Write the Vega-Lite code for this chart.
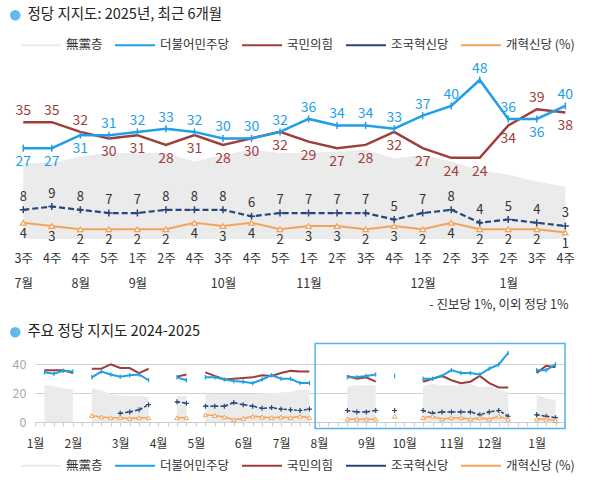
{
  "$schema": "https://vega.github.io/schema/vega-lite/v6.json",
  "padding": {"left": 8, "top": 8, "right": 0, "bottom": 0},
  "background": "white",
  "bounds": "flush",
  "center": true,
  "spacing": 111,
  "config": {"view": {"stroke": null}, "font": "Noto Sans CJK KR"},
  "resolve": {
    "scale": {"x": "independent", "y": "independent", "color": "independent", "shape": "independent"},
    "legend": {"color": "independent", "shape": "independent"}
  },
  "datasets": {
    "recent": [
      {"i": 1, "key": "7월 3주", "dem": 27, "ppp": 35, "reb": 8, "ref": 4, "none": 22.4},
      {"i": 2, "key": "7월 4주", "dem": 27, "ppp": 35, "reb": 9, "ref": 3, "none": 22.4},
      {"i": 3, "key": "8월 4주", "dem": 31, "ppp": 32, "reb": 8, "ref": 2, "none": 24.4},
      {"i": 4, "key": "8월 5주", "dem": 31, "ppp": 30, "reb": 7, "ref": 2, "none": 25.5},
      {"i": 5, "key": "9월 1주", "dem": 32, "ppp": 31, "reb": 7, "ref": 2, "none": 25.5},
      {"i": 6, "key": "9월 2주", "dem": 33, "ppp": 28, "reb": 8, "ref": 2, "none": 25.5},
      {"i": 7, "key": "9월 4주", "dem": 32, "ppp": 31, "reb": 8, "ref": 4, "none": 22.9},
      {"i": 8, "key": "10월 3주", "dem": 30, "ppp": 28, "reb": 8, "ref": 3, "none": 24.9},
      {"i": 9, "key": "10월 4주", "dem": 30, "ppp": 30, "reb": 6, "ref": 4, "none": 26.5},
      {"i": 10, "key": "10월 5주", "dem": 32, "ppp": 32, "reb": 7, "ref": 2, "none": 25.5},
      {"i": 11, "key": "11월 1주", "dem": 36, "ppp": 29, "reb": 7, "ref": 3, "none": 25.5},
      {"i": 12, "key": "11월 2주", "dem": 34, "ppp": 27, "reb": 7, "ref": 3, "none": 26},
      {"i": 13, "key": "11월 3주", "dem": 34, "ppp": 28, "reb": 7, "ref": 2, "none": 26.5},
      {"i": 14, "key": "11월 4주", "dem": 33, "ppp": 32, "reb": 5, "ref": 3, "none": 23.9},
      {"i": 15, "key": "12월 1주", "dem": 37, "ppp": 27, "reb": 7, "ref": 2, "none": 24.9},
      {"i": 16, "key": "12월 2주", "dem": 40, "ppp": 24, "reb": 8, "ref": 4, "none": 22.9},
      {"i": 17, "key": "12월 3주", "dem": 48, "ppp": 24, "reb": 4, "ref": 2, "none": 20.3},
      {"i": 18, "key": "1월 2주", "dem": 36, "ppp": 34, "reb": 5, "ref": 2, "none": 18.8},
      {"i": 19, "key": "1월 3주", "dem": 36, "ppp": 39, "reb": 4, "ref": 2, "none": 16.7},
      {"i": 20, "key": "1월 4주", "dem": 40, "ppp": 38, "reb": 3, "ref": 1, "none": 15.2}
    ],
    "history": [
      {"w": 1, "seg": "A", "dem": 34.5, "ppp": 36, "reb": null, "ref": null, "none": 25.7},
      {"w": 2, "seg": "A", "dem": 33.5, "ppp": 36, "reb": null, "ref": null, "none": 25},
      {"w": 3, "seg": "A", "dem": 35.5, "ppp": 36, "reb": null, "ref": null, "none": 23.5},
      {"w": 4, "seg": "A", "dem": 35, "ppp": 34, "reb": null, "ref": null, "none": 22.5},
      {"w": 6, "seg": "B", "dem": 31, "ppp": 37, "reb": null, "ref": 4.5, "none": 23.4},
      {"w": 7, "seg": "B", "dem": 35, "ppp": 37, "reb": null, "ref": 3.5, "none": 22},
      {"w": 8, "seg": "B", "dem": 33, "ppp": 40, "reb": null, "ref": 3, "none": 19.5},
      {"w": 9, "seg": "B", "dem": 31.5, "ppp": 37.5, "reb": 6, "ref": 3, "none": 18.5},
      {"w": 10, "seg": "B", "dem": 32.5, "ppp": 37.5, "reb": 7, "ref": 2.5, "none": 18},
      {"w": 11, "seg": "B", "dem": 33, "ppp": 34, "reb": 8.5, "ref": 3, "none": 17.8},
      {"w": 12, "seg": "B", "dem": 29, "ppp": 37, "reb": 12, "ref": 3, "none": 17.5},
      {"w": 15, "seg": "C", "dem": 31, "ppp": 31.5, "reb": 14, "ref": 3, "none": 18},
      {"w": 16, "seg": "C", "dem": 29, "ppp": 33, "reb": 13, "ref": 3, "none": 18},
      {"w": 18, "seg": "D", "dem": 31, "ppp": 34.5, "reb": 11, "ref": 5, "none": 20},
      {"w": 19, "seg": "D", "dem": 31, "ppp": 32, "reb": 11, "ref": 4.5, "none": 19.5},
      {"w": 20, "seg": "D", "dem": 29.5, "ppp": 29.5, "reb": 11, "ref": 3.5, "none": 19.5},
      {"w": 21, "seg": "D", "dem": 28.5, "ppp": 30, "reb": 13.5, "ref": 1.5, "none": 19.5},
      {"w": 22, "seg": "D", "dem": 28, "ppp": 30.5, "reb": 12, "ref": 2.5, "none": 19.5},
      {"w": 23, "seg": "D", "dem": 27, "ppp": 31, "reb": 11, "ref": 4, "none": 19.5},
      {"w": 24, "seg": "D", "dem": 29.5, "ppp": 32.5, "reb": 9.5, "ref": 3.5, "none": 20},
      {"w": 25, "seg": "D", "dem": 32.5, "ppp": 32, "reb": 10, "ref": 3, "none": 20},
      {"w": 26, "seg": "D", "dem": 30, "ppp": 34, "reb": 9, "ref": 3.5, "none": 20.5},
      {"w": 27, "seg": "D", "dem": 30, "ppp": 35.5, "reb": 8.5, "ref": 3, "none": 21},
      {"w": 28, "seg": "D", "dem": 27, "ppp": 35, "reb": 8, "ref": 4, "none": 22.4},
      {"w": 29, "seg": "D", "dem": 27, "ppp": 35, "reb": 9, "ref": 3, "none": 22.4},
      {"w": 33, "seg": "E", "dem": 31, "ppp": 32, "reb": 8, "ref": 2, "none": 24.4},
      {"w": 34, "seg": "E", "dem": 31, "ppp": 30, "reb": 7, "ref": 2, "none": 25.5},
      {"w": 35, "seg": "E", "dem": 32, "ppp": 31, "reb": 7, "ref": 2, "none": 25.5},
      {"w": 36, "seg": "E", "dem": 33, "ppp": 28, "reb": 8, "ref": 2, "none": 25.5},
      {"w": 38, "seg": "F", "dem": 32, "ppp": 31, "reb": 8, "ref": 4, "none": 22.9},
      {"w": 41, "seg": "G", "dem": 30, "ppp": 28, "reb": 8, "ref": 3, "none": 24.9},
      {"w": 42, "seg": "G", "dem": 30, "ppp": 30, "reb": 6, "ref": 4, "none": 26.5},
      {"w": 43, "seg": "G", "dem": 32, "ppp": 32, "reb": 7, "ref": 2, "none": 25.5},
      {"w": 44, "seg": "G", "dem": 36, "ppp": 29, "reb": 7, "ref": 3, "none": 25.5},
      {"w": 45, "seg": "G", "dem": 34, "ppp": 27, "reb": 7, "ref": 3, "none": 26},
      {"w": 46, "seg": "G", "dem": 34, "ppp": 28, "reb": 7, "ref": 2, "none": 26.5},
      {"w": 47, "seg": "G", "dem": 33, "ppp": 32, "reb": 5, "ref": 3, "none": 23.9},
      {"w": 48, "seg": "G", "dem": 37, "ppp": 27, "reb": 7, "ref": 2, "none": 24.9},
      {"w": 49, "seg": "G", "dem": 40, "ppp": 24, "reb": 8, "ref": 4, "none": 22.9},
      {"w": 50, "seg": "G", "dem": 48, "ppp": 24, "reb": 4, "ref": 2, "none": 20.3},
      {"w": 53, "seg": "H", "dem": 36, "ppp": 34, "reb": 5, "ref": 2, "none": 18.8},
      {"w": 54, "seg": "H", "dem": 36, "ppp": 39, "reb": 4, "ref": 2, "none": 16.7},
      {"w": 55, "seg": "H", "dem": 40, "ppp": 38, "reb": 3, "ref": 1, "none": 15.2}
    ]
  },
  "vconcat": [
    {
      "width": 582,
      "height": 172,
      "data": {"name": "recent"},
      "encoding": {
        "x": {
          "field": "i", "type": "quantitative",
          "scale": {"domain": [0.5, 20.9], "nice": false, "zero": false},
          "axis": {
            "values": [1,2,3,4,5,6,7,8,9,10,11,12,13,14,15,16,17,18,19,20],
            "domain": false, "ticks": false, "grid": false,
            "labelExpr": "[['3주','4주','4주','5주','1주','2주','4주','3주','4주','5주','1주','2주','3주','4주','1주','2주','3주','2주','3주','4주'][datum.value-1], ['7월','','8월','','9월','','','10월','','','11월','','','','12월','','','1월','',''][datum.value-1]]",
            "labelPadding": 13, "labelFontSize": 12.5, "labelColor": "#333", "labelLineHeight": 25,
            "labelOverlap": false, "labelFlush": false, "labelBound": false,
            "title": "- 진보당 1%, 이외 정당 1%",
            "titleX": 559, "titleY": 65, "titleAlign": "right", "titleAnchor": "end", "titleBaseline": "middle",
            "titleFontSize": 12.5, "titleFontWeight": "normal", "titleColor": "#333"
          }
        }
      },
      "layer": [
        {
          "transform": [{"filter": "false"}],
          "mark": {"type": "point", "filled": true, "color": "#1e9ce8"},
          "encoding": {
            "shape": {
              "datum": "정당 지지도: 2025년, 최근 6개월",
              "scale": {"range": ["circle"]},
              "legend": {
                "orient": "none", "legendX": -1, "legendY": -59, "title": null, "padding": 0,
                "symbolType": "circle", "symbolSize": 110, "symbolFillColor": "#1e9ce8", "symbolStrokeWidth": 0,
                "labelFontSize": 14.5, "labelColor": "#222", "labelOffset": 5, "labelLimit": 0
              }
            }
          }
        },
        {
          "mark": {"type": "area", "opacity": 1},
          "encoding": {
            "y": {"field": "none", "type": "quantitative", "scale": {"domain": [-1, 52], "nice": false, "zero": false}, "axis": null},
            "y2": {"datum": -1},
            "color": {
              "datum": "無黨층",
              "scale": {"domain": ["無黨층", "더불어민주당", "국민의힘", "조국혁신당", "개혁신당"], "range": ["#ebebeb", "#1f9fe5", "#9f3d3a", "#27477a", "#f3a45c"]},
              "legend": {
                "orient": "none", "legendX": 11, "legendY": -43, "direction": "horizontal", "title": null, "padding": 0,
                "symbolType": "stroke", "symbolSize": 1600, "symbolStrokeWidth": 2,
                "labelFontSize": 12.5, "labelColor": "#333", "labelOffset": 4, "columnPadding": 8, "labelLimit": 0,
                "labelExpr": "datum.label === '개혁신당' ? '개혁신당 (%)' : datum.label",
                "encode": {"symbols": {"update": {
                  "stroke": {"signal": "datum.value === '無黨층' ? '#e6e6e6' : datum.value === '더불어민주당' ? '#1f9fe5' : datum.value === '국민의힘' ? '#9f3d3a' : datum.value === '조국혁신당' ? '#27477a' : '#f3a45c'"},
                  "strokeWidth": {"signal": "datum.value === '無黨층' ? 7 : 2"},
                  "strokeDash": {"signal": "datum.value === '조국혁신당' ? [4, 2] : [1, 0]"}
                }}}
              }
            }
          }
        },
        {
          "mark": {"type": "line", "strokeWidth": 2.5},
          "encoding": {"y": {"field": "ppp", "type": "quantitative"}, "color": {"datum": "국민의힘"}}
        },
        {
          "mark": {"type": "line", "strokeWidth": 2.5},
          "encoding": {"y": {"field": "dem", "type": "quantitative"}, "color": {"datum": "더불어민주당"}}
        },
        {
          "mark": {"type": "point", "shape": "M0,-1L0,1", "size": 49, "strokeWidth": 1.5, "filled": false, "opacity": 1},
          "encoding": {"y": {"field": "dem", "type": "quantitative"}, "color": {"datum": "더불어민주당"}}
        },
        {
          "mark": {"type": "line", "strokeWidth": 2.2, "strokeDash": [6, 3]},
          "encoding": {"y": {"field": "reb", "type": "quantitative"}, "color": {"datum": "조국혁신당"}}
        },
        {
          "mark": {"type": "point", "shape": "M-1,0L1,0M0,-1L0,1", "size": 49, "strokeWidth": 1.5, "filled": false, "opacity": 1},
          "encoding": {"y": {"field": "reb", "type": "quantitative"}, "color": {"datum": "조국혁신당"}}
        },
        {
          "mark": {"type": "line", "strokeWidth": 2},
          "encoding": {"y": {"field": "ref", "type": "quantitative"}, "color": {"datum": "개혁신당"}}
        },
        {
          "mark": {"type": "point", "shape": "triangle-up", "size": 30, "strokeWidth": 1.2, "filled": false, "fill": "white", "opacity": 1},
          "encoding": {"y": {"field": "ref", "type": "quantitative"}, "color": {"datum": "개혁신당"}}
        },
        {
          "transform": [{"filter": "datum.dem >= datum.ppp"}],
          "mark": {"type": "text", "dy": -11, "fontSize": 14, "color": "#1f9fe5"},
          "encoding": {"y": {"field": "dem", "type": "quantitative"}, "text": {"field": "dem"}}
        },
        {
          "transform": [{"filter": "datum.dem < datum.ppp"}],
          "mark": {"type": "text", "dy": 14, "fontSize": 14, "color": "#1f9fe5"},
          "encoding": {"y": {"field": "dem", "type": "quantitative"}, "text": {"field": "dem"}}
        },
        {
          "transform": [{"filter": "datum.ppp > datum.dem"}],
          "mark": {"type": "text", "dy": -11, "fontSize": 14, "color": "#9f3d3a"},
          "encoding": {"y": {"field": "ppp", "type": "quantitative"}, "text": {"field": "ppp"}}
        },
        {
          "transform": [{"filter": "datum.ppp <= datum.dem"}],
          "mark": {"type": "text", "dy": 14, "fontSize": 14, "color": "#9f3d3a"},
          "encoding": {"y": {"field": "ppp", "type": "quantitative"}, "text": {"field": "ppp"}}
        },
        {
          "mark": {"type": "text", "dy": -13, "fontSize": 13, "color": "#333"},
          "encoding": {"y": {"field": "reb", "type": "quantitative"}, "text": {"field": "reb"}}
        },
        {
          "mark": {"type": "text", "dy": 11, "fontSize": 13, "color": "#333"},
          "encoding": {"y": {"field": "ref", "type": "quantitative"}, "text": {"field": "ref"}}
        }
      ]
    },
    {
      "width": 530,
      "height": 72,
      "data": {"name": "history"},
      "encoding": {
        "x": {
          "field": "w", "type": "quantitative",
          "scale": {"domain": [0, 56], "nice": false, "zero": false},
          "axis": {
            "values": [0,1,2,3,4,5,6,7,8,9,10,11,12,13,14,15,16,17,18,19,20,21,22,23,24,25,26,27,28,29,30,31,32,33,34,35,36,37,38,39,40,41,42,43,44,45,46,47,48,49,50,51,52,53,54,55,56],
            "labelExpr": "indexof([0,4,9,13,17,22,26,30,35,39,44,48,53], datum.value) >= 0 ? ['1월','2월','3월','4월','5월','6월','7월','8월','9월','10월','11월','12월','1월'][indexof([0,4,9,13,17,22,26,30,35,39,44,48,53], datum.value)] : ''",
            "domain": true, "domainColor": "#cccccc", "ticks": true, "tickColor": "#cccccc", "tickSize": 4, "grid": false,
            "labelPadding": 12, "labelFontSize": 12, "labelColor": "#333",
            "labelOverlap": false, "labelFlush": false, "labelBound": false, "title": null
          }
        }
      },
      "layer": [
        {
          "transform": [{"filter": "false"}],
          "mark": {"type": "point", "filled": true, "color": "#1e9ce8"},
          "encoding": {
            "shape": {
              "datum": "주요 정당 지지도 2024-2025",
              "scale": {"range": ["circle"]},
              "legend": {
                "orient": "none", "legendX": -27, "legendY": -25, "title": null, "padding": 0,
                "symbolType": "circle", "symbolSize": 110, "symbolFillColor": "#1e9ce8", "symbolStrokeWidth": 0,
                "labelFontSize": 14.5, "labelColor": "#222", "labelOffset": 5, "labelLimit": 0
              }
            }
          }
        },
        {
          "mark": {"type": "area", "opacity": 1},
          "encoding": {
            "y": {
              "field": "none", "type": "quantitative",
              "scale": {"domain": [0, 50], "nice": false, "zero": false},
              "axis": {"values": [0, 20, 40], "tickCount": 3, "grid": true, "gridColor": "#d0d0d0", "domain": false, "ticks": false, "labelColor": "#aaaaaa", "labelFontSize": 12.5, "labelPadding": 9, "labelOverlap": false, "title": null}
            },
            "y2": {"datum": 0},
            "detail": {"field": "seg"},
            "color": {
              "datum": "無黨층",
              "scale": {"domain": ["無黨층", "더불어민주당", "국민의힘", "조국혁신당", "개혁신당"], "range": ["#ebebeb", "#1f9fe5", "#9f3d3a", "#27477a", "#f3a45c"]},
              "legend": {
                "orient": "none", "legendX": -15, "legendY": 94.5, "direction": "horizontal", "title": null, "padding": 0,
                "symbolType": "stroke", "symbolSize": 1600, "symbolStrokeWidth": 2,
                "labelFontSize": 12.5, "labelColor": "#333", "labelOffset": 4, "columnPadding": 8, "labelLimit": 0,
                "labelExpr": "datum.label === '개혁신당' ? '개혁신당 (%)' : datum.label",
                "encode": {"symbols": {"update": {
                  "stroke": {"signal": "datum.value === '無黨층' ? '#e6e6e6' : datum.value === '더불어민주당' ? '#1f9fe5' : datum.value === '국민의힘' ? '#9f3d3a' : datum.value === '조국혁신당' ? '#27477a' : '#f3a45c'"},
                  "strokeWidth": {"signal": "datum.value === '無黨층' ? 7 : 2"},
                  "strokeDash": {"signal": "datum.value === '조국혁신당' ? [4, 2] : [1, 0]"}
                }}}
              }
            }
          }
        },
        {
          "mark": {"type": "line", "strokeWidth": 2},
          "encoding": {"y": {"field": "ppp", "type": "quantitative", "axis": {"values": [0, 20, 40], "grid": true, "gridColor": "#d0d0d0", "domain": false, "ticks": false, "labelColor": "#aaaaaa", "labelFontSize": 12.5, "labelPadding": 9, "labelOverlap": false, "title": null}}, "detail": {"field": "seg"}, "color": {"datum": "국민의힘"}}
        },
        {
          "mark": {"type": "line", "strokeWidth": 2},
          "encoding": {"y": {"field": "dem", "type": "quantitative"}, "detail": {"field": "seg"}, "color": {"datum": "더불어민주당"}}
        },
        {
          "mark": {"type": "point", "shape": "M0,-1L0,1", "size": 20, "strokeWidth": 1.2, "filled": false, "opacity": 1},
          "encoding": {"y": {"field": "dem", "type": "quantitative"}, "color": {"datum": "더불어민주당"}}
        },
        {
          "mark": {"type": "line", "strokeWidth": 1.5, "strokeDash": [3, 2]},
          "encoding": {"y": {"field": "reb", "type": "quantitative"}, "detail": {"field": "seg"}, "color": {"datum": "조국혁신당"}}
        },
        {
          "mark": {"type": "point", "shape": "M-1,0L1,0M0,-1L0,1", "size": 25, "strokeWidth": 1.2, "filled": false, "opacity": 1},
          "encoding": {"y": {"field": "reb", "type": "quantitative"}, "color": {"datum": "조국혁신당"}}
        },
        {
          "mark": {"type": "line", "strokeWidth": 1.5},
          "encoding": {"y": {"field": "ref", "type": "quantitative"}, "detail": {"field": "seg"}, "color": {"datum": "개혁신당"}}
        },
        {
          "mark": {"type": "point", "shape": "triangle-up", "size": 20, "strokeWidth": 1, "filled": false, "fill": "white", "opacity": 1},
          "encoding": {"y": {"field": "ref", "type": "quantitative"}, "color": {"datum": "개혁신당"}}
        },
        {
          "data": {"values": [{"from": 29.6, "to": 56}]},
          "mark": {"type": "rect", "fill": "transparent", "stroke": "#55b5ea", "strokeWidth": 1.5, "clip": false},
          "encoding": {
            "x": {"field": "from", "type": "quantitative"},
            "x2": {"field": "to"},
            "y": {"datum": 54.5},
            "y2": {"datum": -4.5}
          }
        }
      ]
    }
  ]
}
